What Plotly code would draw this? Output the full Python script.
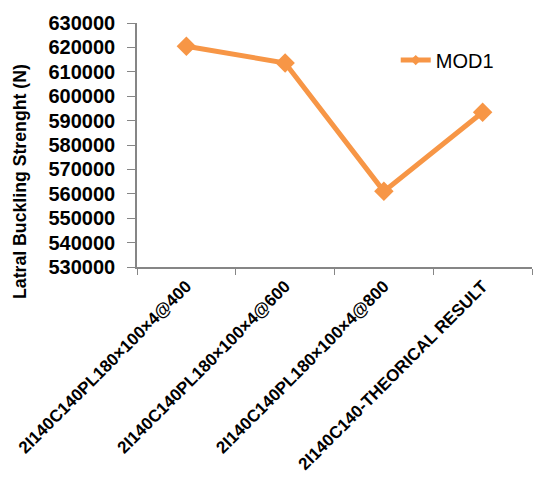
import plotly.graph_objects as go

categories = [
    "2I140C140PL180×100×4@400",
    "2I140C140PL180×100×4@600",
    "2I140C140PL180×100×4@800",
    "2I140C140-THEORICAL RESULT",
]
mod1 = [620500, 613600, 561000, 593400]
y_ticks = list(range(530000, 630001, 10000))

orange = "#F79646"
axis_grey = "#868686"
font_family = "Liberation Sans, Arial, sans-serif"

fig = go.Figure()
fig.add_trace(go.Scatter(
    x=categories, y=mod1, mode="lines+markers", name="MOD1",
    line=dict(color=orange, width=5),
    marker=dict(symbol="diamond", size=15, color=orange),
    showlegend=False,
))
# legend entry with small marker (as in reference)
fig.add_trace(go.Scatter(
    x=[None], y=[None], mode="lines+markers", name="MOD1",
    line=dict(color=orange, width=5),
    marker=dict(symbol="diamond", size=8, color=orange),
    showlegend=True,
))

fig.update_layout(
    width=533, height=483,
    margin=dict(l=137, r=1, t=23, b=216),
    paper_bgcolor="white", plot_bgcolor="white",
    font=dict(family=font_family, color="black"),
    legend=dict(x=0.655, y=0.848, xanchor="left", yanchor="middle",
                font=dict(size=20, color="black"), bgcolor="rgba(0,0,0,0)"),
    annotations=[dict(
        text="<b>Latral Buckling Strenght (N)</b>", textangle=-90,
        xref="paper", yref="paper", x=(20 - 137) / 395, y=(267 - 181) / 244,
        xanchor="center", yanchor="middle", showarrow=False,
        font=dict(size=17.7, color="black", family=font_family),
    )],
)
fig.update_xaxes(
    type="category", tickangle=-45, tickson="boundaries", automargin=False,
    ticks="outside", ticklen=6, tickcolor=axis_grey,
    showline=True, linecolor=axis_grey, linewidth=1.5,
    showgrid=False, zeroline=False, ticklabelstandoff=1,
    tickfont=dict(size=17, family=font_family, color="black", weight="bold"),
    range=[-0.5, 3.5],
)
fig.update_yaxes(
    range=[530000, 630000], tickvals=y_ticks, ticktext=[str(v) for v in y_ticks],
    automargin=False,
    ticks="outside", ticklen=8, tickcolor=axis_grey,
    showline=True, linecolor=axis_grey, linewidth=1.5,
    showgrid=False, zeroline=False, ticklabelstandoff=8,
    tickfont=dict(size=20, family=font_family, color="black", weight="bold"),
)

fig.write_html("out.html")
